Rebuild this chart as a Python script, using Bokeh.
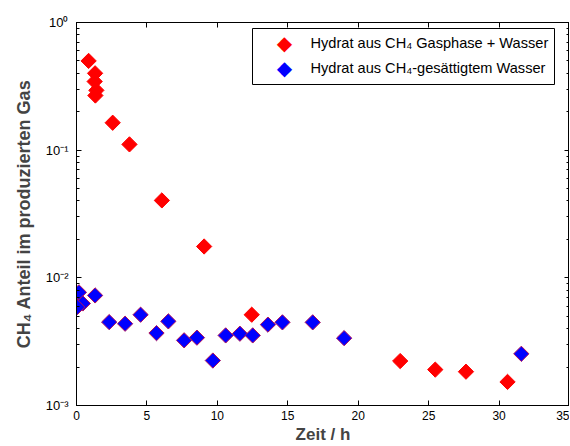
import numpy as np
from bokeh.plotting import figure
from bokeh.models import (LinearAxis, LogAxis, FixedTicker, LogTicker, Range1d,
                          ColumnDataSource, Label, BoxAnnotation)
from bokeh.embed import file_html
from bokeh.resources import INLINE

# --- data ---
red_t = [0.86, 1.32, 1.29, 1.41, 1.34, 2.57, 3.76, 6.06, 9.06, 12.44, 22.98, 25.47, 27.65, 30.6]
red_v = [0.50, 0.40, 0.345, 0.294, 0.268, 0.164, 0.111, 0.0404, 0.0176, 0.00514,
         0.00223, 0.00191, 0.00184, 0.00153]
blue_t = [0.0, 0.17, 0.45, 0.05, 1.32, 2.32, 3.45, 4.55, 5.68, 6.52, 7.64, 8.55, 9.68,
          10.59, 11.6, 12.51, 13.59, 14.62, 16.77, 19.0, 31.58]
blue_v = [0.0068, 0.0077, 0.0063, 0.0059, 0.00728, 0.0045, 0.00437, 0.00514, 0.00369,
          0.00456, 0.00324, 0.0034, 0.00225, 0.00354, 0.00365, 0.00354, 0.0043, 0.00448,
          0.00448, 0.00337, 0.00254]
x_ticks = [0, 5, 10, 15, 20, 25, 30, 35]
y_ticks = [0.001, 0.01, 0.1, 1.0]
y_tick_labels = {0.001: "10⁻³", 0.01: "10⁻²", 0.1: "10⁻¹", 1.0: "10⁰"}
red_label = "Hydrat aus CH₄ Gasphase + Wasser"
blue_label = "Hydrat aus CH₄-gesättigtem Wasser"

FONT = "Liberation Sans"
RED = "#ff0000"
BLUE = "#0000ff"
BLUE_EDGE = "#b0105a"

p = figure(width=569, height=446, output_backend="svg", toolbar_location=None,
           y_axis_type="log", x_range=Range1d(0, 35), y_range=Range1d(1e-3, 1.0),
           min_border_left=76, min_border_top=22, min_border_right=0, min_border_bottom=41)
p.xgrid.visible = False
p.ygrid.visible = False
p.outline_line_color = "black"
p.outline_line_width = 1
p.background_fill_color = "white"
p.border_fill_color = "white"

def style_axis(ax):
    ax.axis_line_color = "black"
    ax.major_tick_in = 5
    ax.major_tick_out = 0
    ax.minor_tick_in = 3
    ax.minor_tick_out = 0
    ax.major_tick_line_color = "black"
    ax.minor_tick_line_color = "black"
    ax.major_label_text_font = FONT
    ax.major_label_text_font_size = "12px"
    ax.major_label_text_color = "black"

xax = p.xaxis[0]
xax.ticker = FixedTicker(ticks=x_ticks)
style_axis(xax)
xax.major_label_standoff = 5
xax.axis_label = "Zeit / h"
xax.axis_label_text_font = FONT
xax.axis_label_text_font_style = "bold"
xax.axis_label_text_font_size = "17px"
xax.axis_label_standoff = 2

yax = p.yaxis[0]
yax.ticker = LogTicker(desired_num_ticks=4, num_minor_ticks=10)
yax.major_label_overrides = y_tick_labels
style_axis(yax)
yax.major_label_text_font_size = "13px"
yax.major_label_standoff = 8
yax.axis_label = "CH₄ Anteil im produzierten Gas"
yax.axis_label_text_font = FONT
yax.axis_label_text_font_style = "bold"
yax.axis_label_text_font_size = "18px"
yax.axis_label_standoff = 9

top = LinearAxis(ticker=FixedTicker(ticks=x_ticks), major_label_overrides={t: "" for t in x_ticks})
style_axis(top)
top.major_label_standoff = 0
p.add_layout(top, "above")

right = LogAxis(ticker=LogTicker(desired_num_ticks=4, num_minor_ticks=10),
                major_label_overrides={t: "" for t in y_ticks})
style_axis(right)
right.major_label_standoff = 0
p.add_layout(right, "right")

src_r = ColumnDataSource(dict(x=red_t, y=red_v))
src_b = ColumnDataSource(dict(x=blue_t, y=blue_v))
p.scatter("x", "y", source=src_r, marker="square", angle=np.pi / 4, size=10.8,
          fill_color=RED, line_color=RED, line_width=1)
p.scatter("x", "y", source=src_b, marker="square", angle=np.pi / 4, size=10.8,
          fill_color=BLUE, line_color=BLUE_EDGE, line_width=1)

# legend (screen units, relative to the plot frame's bottom-left)
box = BoxAnnotation(left=176, right=478, top=377, bottom=321,
                    left_units="screen", right_units="screen",
                    top_units="screen", bottom_units="screen",
                    fill_color="white", fill_alpha=1.0,
                    line_color="black", line_width=1, line_alpha=1.0)
p.add_layout(box)
for lbl, col, ys in [(red_label, RED, 363), (blue_label, BLUE, 338)]:
    p.add_layout(Label(x=208, y=ys, x_units="screen", y_units="screen", text="◆",
                       text_font="DejaVu Sans", text_font_size="20px", text_color=col,
                       text_align="center", text_baseline="middle"))
    p.add_layout(Label(x=234, y=ys, x_units="screen", y_units="screen", text=lbl,
                       text_font=FONT, text_font_size="14.6px", text_color="black",
                       text_align="left", text_baseline="middle"))

open("out.html", "w").write(file_html(p, INLINE))
